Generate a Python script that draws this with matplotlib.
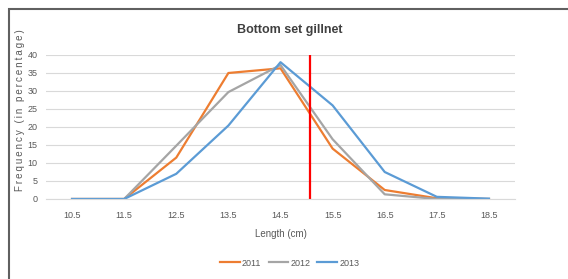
import matplotlib.pyplot as plt
from matplotlib.patches import Rectangle

lengths = ["10.5", "11.5", "12.5", "13.5", "14.5", "15.5", "16.5", "17.5", "18.5"]
y2011 = [0, 0, 11.5, 35, 36.3, 14, 2.5, 0.2, 0]
y2012 = [0, 0, 14.8, 29.7, 37.2, 16.6, 1.3, 0, 0]
y2013 = [0, 0, 7, 20.4, 38, 26, 7.5, 0.6, 0.1]
cut_length = 15.06

plt.rcParams['font.family'] = ['Liberation Sans', 'DejaVu Sans']

fig = plt.figure(figsize=(5.68, 2.79), dpi=100)
ax = fig.add_axes([46 / 568, 1 - 199 / 279, 469 / 568, 144 / 279])

x = list(range(len(lengths)))
ax.plot(x, y2011, color='#ED7D31', lw=1.6, label='2011')
ax.plot(x, y2012, color='#A5A5A5', lw=1.6, label='2012')
ax.plot(x, y2013, color='#5B9BD5', lw=1.6, label='2013')

# red cut-off line, converted from length to category position
cut_pos = (cut_length - float(lengths[0])) / (float(lengths[1]) - float(lengths[0]))
ax.plot([cut_pos, cut_pos], [0, 40], color='#FF0000', lw=1.6)

ax.set_xlim(-0.5, len(lengths) - 0.5)
ax.set_ylim(0, 40)
ax.set_xticks(x)
ax.set_xticklabels(lengths)
ax.set_yticks(range(0, 41, 5))
ax.grid(axis='y', color='#D9D9D9', lw=0.8)
ax.set_axisbelow(True)
for s in ['top', 'right', 'left']:
    ax.spines[s].set_visible(False)
ax.spines['bottom'].set_color('#D9D9D9')
ax.tick_params(length=0, labelsize=6.5, colors='#595959', pad=9)
ax.tick_params(axis='y', pad=6)

ax.set_xlabel('Length (cm)', fontsize=7, color='#595959', labelpad=6)
ylab = '\u2009'.join('Frequency (in percentage)')
ax.set_ylabel(ylab, fontsize=7, color='#595959')
ax.yaxis.set_label_coords(-21 / 469, 0.62)
fig.text(0.51, 1 - 30 / 279, 'Bottom set gillnet', ha='center', va='center',
         fontsize=9, fontweight='bold', color='#404040')

fig.legend(loc='center', bbox_to_anchor=(0.51, 1 - 263 / 279), ncol=3, frameon=False,
           fontsize=6.5, handlelength=2.2, handletextpad=0.2, columnspacing=0.8,
           labelcolor='#595959')

fig.patches.append(Rectangle((9 / 568, -0.1), 1.1, 1.1 - 9 / 279,
                             transform=fig.transFigure, fill=False,
                             edgecolor='#606060', lw=1.5))

fig.savefig('out.png', dpi=100)
